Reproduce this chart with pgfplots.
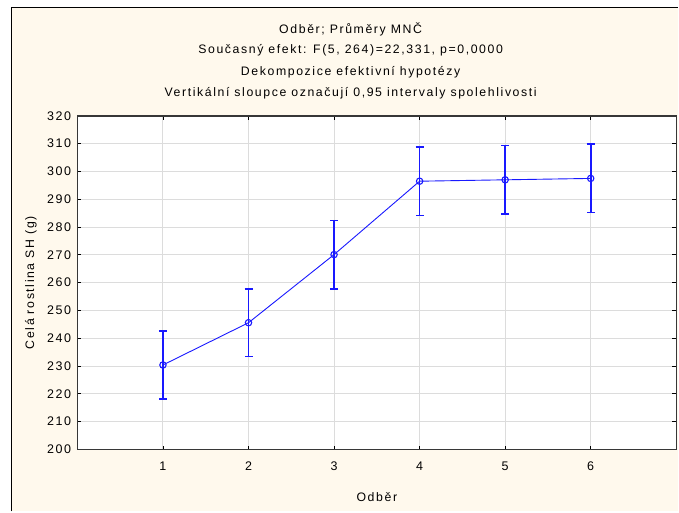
\documentclass[border=0pt]{standalone}
\usepackage{fontspec}
\setmainfont{Liberation Sans}[LetterSpace=13]
\usepackage{pgfplots}
\pgfplotsset{compat=1.18}

\definecolor{paper}{RGB}{255,249,237}
\definecolor{gridgray}{RGB}{220,220,220}
\definecolor{meanblue}{RGB}{25,25,255}
\definecolor{frameline}{RGB}{55,55,55}

% LS means with 0.95 confidence intervals
\pgfplotstableread{
x  y      e
1  230.4  12.3
2  245.6  12.2
3  270.1  12.3
4  296.5  12.3
5  297.0  12.3
6  297.5  12.3
}\means

\begin{document}
\fontsize{12.3}{14}\selectfont
\begin{tikzpicture}
  % page and frame
  \fill[white] (0pt,0pt) rectangle (679pt,512pt);
  \fill[paper] (11.5pt,0pt) rectangle (679pt,504.5pt);
  \draw[black,line width=1.5pt] (11.5pt,0pt) -- (11.5pt,504.5pt) -- (679pt,504.5pt);

  \begin{axis}[
    at={(77.5pt,62pt)}, anchor=south west,
    scale only axis, width=599.5pt, height=334pt,
    xmin=0, xmax=7, ymin=200, ymax=320,
    xtick={1,...,6}, ytick={200,210,...,320},
    grid=major,
    grid style={gridgray, line width=1pt},
    axis line style={frameline, line width=1.3pt},
    axis background/.style={fill=white},
    tick align=inside, major tick length=4pt,
    tick style={black, line width=0.8pt},
    /pgf/number format/assume math mode=true,
    ticklabel style={font=\fontsize{12.5}{14}\selectfont},
    xticklabel style={yshift=-8pt},
    yticklabel style={xshift=-2pt},
    xlabel={Odběr},
    ylabel={Celá rostlina SH (g)},
    xlabel style={yshift=-14pt},
    ylabel style={yshift=2pt},
  ]
    \addplot[meanblue, line width=0.9pt,
      mark=o, mark size=3.2pt, mark options={line width=1.1pt},
      error bars/.cd, y dir=both, y explicit,
      error bar style={line width=1.7pt},
      error mark options={rotate=90, mark size=4pt, line width=1.7pt}]
      table[x=x, y=y, y error=e] {\means};
  \end{axis}

  % header lines
  \node at (351pt,483pt) {Odběr; Průměry MNČ};
  \node at (351pt,461.5pt) {Současný efekt: F(5, 264)=22,331, p=0,0000};
  \node at (351pt,439.5pt) {Dekompozice efektivní hypotézy};
  \node at (351pt,419pt) {Vertikální sloupce označují 0,95 intervaly spolehlivosti};
\end{tikzpicture}
\end{document}
